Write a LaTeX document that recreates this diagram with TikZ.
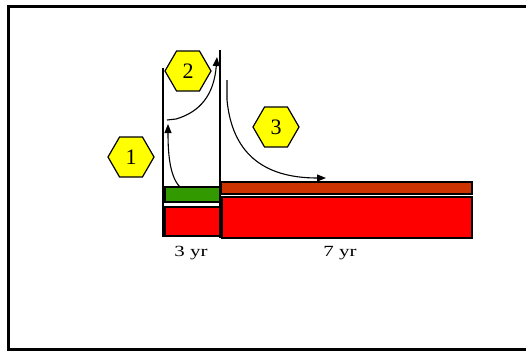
\documentclass[tikz,border=0pt]{standalone}
\usepackage{fontspec}
\setmainfont{Liberation Serif}
\usetikzlibrary{shapes.geometric,arrows.meta}
\definecolor{hexyellow}{RGB}{255,255,0}
\definecolor{bargreen}{RGB}{51,153,0}
\definecolor{barorange}{RGB}{204,51,0}
\tikzset{
  hexa/.style={regular polygon, regular polygon sides=6, minimum size=46pt, inner sep=0pt,
    draw=black, line width=1.2pt, fill=hexyellow, font=\fontsize{22}{22}\selectfont},
  bar/.style={draw=black, line width=1.6pt},
  vline/.style={draw=black, line width=1.6pt},
  arr/.style={draw=black, line width=1.1pt, -{Triangle[length=9pt,width=7pt]}},
  yrlabel/.style={font=\fontsize{15.5}{15.5}\selectfont, xscale=1.35, inner sep=0pt}
}
\begin{document}
\begin{tikzpicture}[x=1pt,y=-1pt]
\useasboundingbox (0,0) rectangle (526,351);
\fill[white] (0,0) rectangle (526,351);
\begin{scope}
\clip (0,0) rectangle (526,351);
\draw[line width=3pt] (8.5,6.5) rectangle (540,349.5);
\end{scope}
% bars
\path[bar, fill=bargreen] (165,187) rectangle (220,202);
\path[bar, fill=red] (165,207) rectangle (220,236);
\path[bar, fill=barorange] (221,182) rectangle (472,194);
\path[bar, fill=red] (222,197) rectangle (472,238);
% vertical lines
\coordinate (l1) at (163,68);
\coordinate (l2) at (163,237);
\coordinate (r1) at (220,50);
\coordinate (r2) at (220,238);
\draw[vline] (l1) -- (l2);
\draw[vline] (r1) -- (r2);
% hexagons
\node[hexa] (h1) at (131,157) {1};
\node[hexa] (h2) at (188,71) {2};
\node[hexa] (h3) at (276,127) {3};
% arrows
\coordinate (a1s) at (180,187);
\coordinate (a1e) at (168,124);
\draw[arr] (a1s) .. controls (169,176) and (168,150) .. (a1e);
\coordinate (a2s) at (167,120);
\coordinate (a2m) at (176,119);
\coordinate (a2e) at (217,57);
\draw[arr] (a2s) -- (a2m) .. controls (200,112) and (214,95) .. (a2e);
\coordinate (a3s) at (227,80);
\coordinate (a3m) at (227,100);
\coordinate (a3e) at (326,178);
\draw[arr] (a3s) -- (a3m) .. controls (232,152) and (262,178) .. (a3e);
% labels
\node[yrlabel] (t3) at (191,253) {3 yr};
\node[yrlabel] (t7) at (340,253) {7 yr};
\end{tikzpicture}
\end{document}
